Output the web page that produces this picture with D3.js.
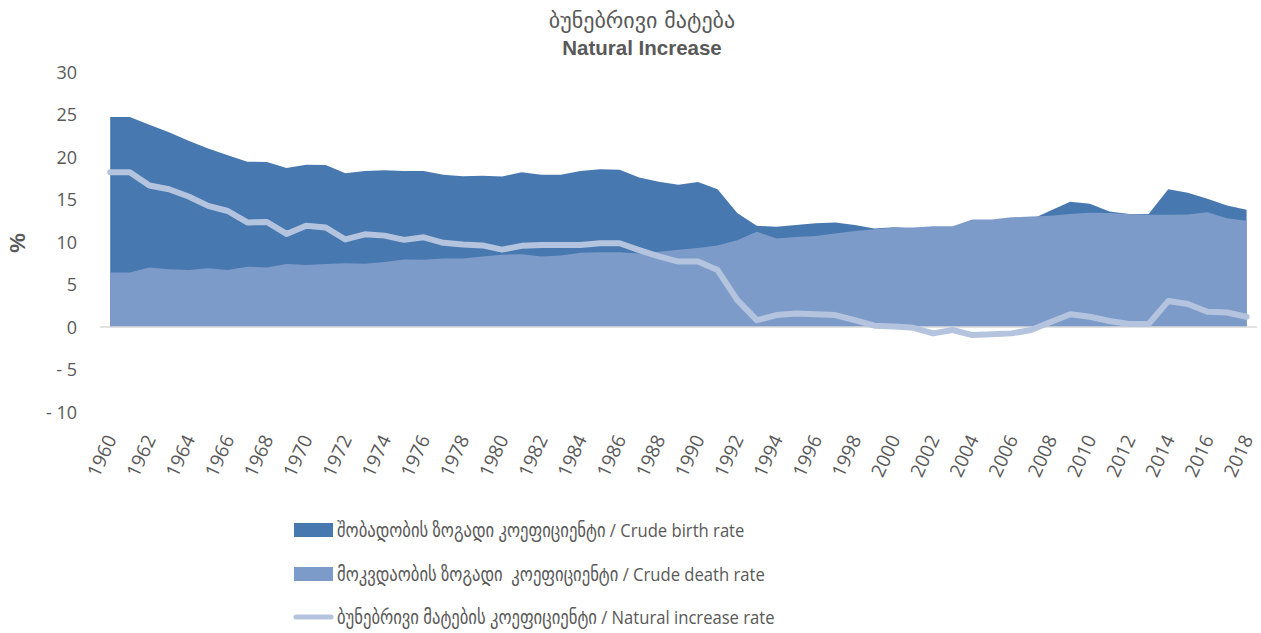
<!DOCTYPE html>
<html>
<head>
<meta charset="utf-8">
<script src="https://cdn.jsdelivr.net/npm/d3@7"></script>
<style>
    body { margin: 0; background: #fff; }
    svg { display: block; }
    .tick-label { font-family: "Open Sans", "DejaVu Sans", sans-serif; fill: #595959; }
    .legend-label { font-family: "Open Sans", "DejaVu Sans", sans-serif; fill: #595959; font-size: 19px; white-space: pre; }
</style>
</head>
<body>
<svg id="chart" width="1261" height="633"></svg>
<script>
    'use strict';

    var years = d3.range(1960, 2019);

    var birthRate = [
        24.7, 24.7, 23.8, 22.9, 21.9, 21.0, 20.2, 19.45, 19.4, 18.7,
        19.1, 19.05, 18.1, 18.35, 18.45, 18.35, 18.35, 17.9, 17.75, 17.8,
        17.7, 18.2, 17.9, 17.9, 18.35, 18.55, 18.5, 17.6, 17.1, 16.75,
        17.05, 16.2, 13.4, 11.9, 11.8, 12.0, 12.2, 12.3, 12.0, 11.6,
        11.75, 11.6, 11.1, 11.5, 11.7, 11.8, 12.15, 12.65, 13.7, 14.75,
        14.5, 13.6, 13.3, 13.3, 16.2, 15.8, 15.1, 14.3, 13.8
    ];

    var deathRate = [
        6.4, 6.4, 7.0, 6.8, 6.7, 6.9, 6.7, 7.1, 7.0, 7.4,
        7.3, 7.4, 7.5, 7.45, 7.65, 7.95, 7.9, 8.05, 8.05, 8.3,
        8.5, 8.55, 8.3, 8.4, 8.75, 8.8, 8.8, 8.65, 8.85, 9.1,
        9.3, 9.6, 10.2, 11.2, 10.4, 10.6, 10.7, 11.0, 11.3, 11.5,
        11.7, 11.7, 11.85, 11.85, 12.65, 12.65, 12.9, 13.0, 13.1, 13.3,
        13.45, 13.4, 13.3, 13.2, 13.2, 13.25, 13.5, 12.8, 12.5
    ];

    var naturalRate = [
        18.2, 18.2, 16.65, 16.2, 15.35, 14.25, 13.65, 12.3, 12.35, 10.95,
        11.9, 11.7, 10.3, 10.9, 10.75, 10.25, 10.55, 9.9, 9.7, 9.6,
        9.1, 9.55, 9.65, 9.65, 9.65, 9.85, 9.85, 9.05, 8.3, 7.7,
        7.7, 6.7, 3.2, 0.8, 1.4, 1.6, 1.5, 1.4, 0.8, 0.15,
        0.05, -0.1, -0.75, -0.35, -0.95, -0.85, -0.75, -0.35, 0.6, 1.5,
        1.2, 0.7, 0.35, 0.35, 3.05, 2.7, 1.8, 1.7, 1.2
    ];

    var yTicks = [-10, -5, 0, 5, 10, 15, 20, 25, 30];

    var titleLines = ['ბუნებრივი მატება', 'Natural Increase'];
    var legendLabels = [
        'შობადობის ზოგადი კოეფიციენტი / Crude birth rate',
        'მოკვდაობის ზოგადი  კოეფიციენტი / Crude death rate',
        'ბუნებრივი მატების კოეფიციენტი / Natural increase rate'
    ];

    var birthColor = '#4878b0', deathColor = '#7d9bc8', naturalColor = '#b4c4df';

    var svg = d3.select('#chart');

    var x = d3.scalePoint().domain(years).range([100.4, 1256.4]).padding(0.5);
    var y = d3.scaleLinear().domain([-10, 30]).range([412, 72]);

    // title
    svg.append('text').attr('x', 642).attr('y', 28).attr('text-anchor', 'middle')
        .style('font-family', '"DejaVu Sans", sans-serif').style('font-size', '22px')
        .style('fill', '#595959').text(titleLines[0]);
    svg.append('text').attr('x', 642).attr('y', 55).attr('text-anchor', 'middle')
        .style('font-family', '"Liberation Sans", Arial, sans-serif').style('font-size', '20.5px').style('font-weight', 'bold')
        .style('fill', '#595959').text(titleLines[1]);

    // y axis label
    svg.append('text').attr('transform', 'translate(25,243) rotate(-90)').attr('text-anchor', 'middle')
        .style('font-family', '"Liberation Sans", Arial, sans-serif').style('font-size', '22px').style('font-weight', 'bold')
        .style('fill', '#595959').text('%');

    // y tick labels
    var yAxis = d3.axisLeft(y).tickValues(yTicks).tickSize(0).tickPadding(0)
        .tickFormat(function (d) { return d < 0 ? '- ' + Math.abs(d) : d; });
    var yAxisG = svg.append('g').attr('transform', 'translate(77,0)').call(yAxis);
    yAxisG.select('.domain').remove();
    yAxisG.selectAll('text').attr('class', 'tick-label').style('font-size', '18px').attr('dy', '0.35em');

    // areas
    var rateArea = d3.area().x(function (d, i) { return x(years[i]); }).y0(y(0)).y1(function (d) { return y(d); });
    svg.append('path').datum(birthRate).attr('d', rateArea).attr('fill', birthColor);
    svg.append('path').datum(deathRate).attr('d', rateArea).attr('fill', deathColor);

    // zero line
    svg.append('line').attr('x1', 100).attr('x2', 1257).attr('y1', y(0)).attr('y2', y(0))
        .attr('stroke', '#d9d9d9').attr('stroke-width', 1.5);

    // natural increase line
    var line = d3.line().x(function (d, i) { return x(years[i]); }).y(function (d) { return y(d); });
    svg.append('path').datum(naturalRate).attr('d', line).attr('fill', 'none')
        .attr('stroke', naturalColor).attr('stroke-width', 6).attr('stroke-linejoin', 'round').attr('stroke-linecap', 'round');

    // x tick labels, every other year
    svg.append('g').selectAll('text').data(years.filter(function (d) { return d % 2 === 0; }))
        .enter().append('text').attr('class', 'tick-label').style('font-size', '19px')
        .attr('text-anchor', 'end')
        .attr('transform', function (d) { return 'translate(' + (x(d) + 7) + ',439) rotate(-65)'; })
        .text(function (d) { return d; });

    // legend
    var legend = svg.append('g').attr('transform', 'translate(294,0)');
    var rows = [530, 574, 617];
    legendLabels.forEach(function (label, i) {
        if (i < 2) {
            legend.append('rect').attr('x', 0).attr('y', rows[i] - 7).attr('width', 39).attr('height', 14)
                .attr('fill', i === 0 ? birthColor : deathColor);
        } else {
            legend.append('line').attr('x1', 2).attr('x2', 37).attr('y1', rows[i]).attr('y2', rows[i])
                .attr('stroke', naturalColor).attr('stroke-width', 5).attr('stroke-linecap', 'round');
        }
        // narrow the text a little, the original font is a condensed one
        legend.append('text').attr('class', 'legend-label')
            .attr('transform', 'translate(43,' + rows[i] + ') scale(0.875,1)').attr('dy', '0.35em')
            .text(label);
    });
</script>
</body>
</html>
